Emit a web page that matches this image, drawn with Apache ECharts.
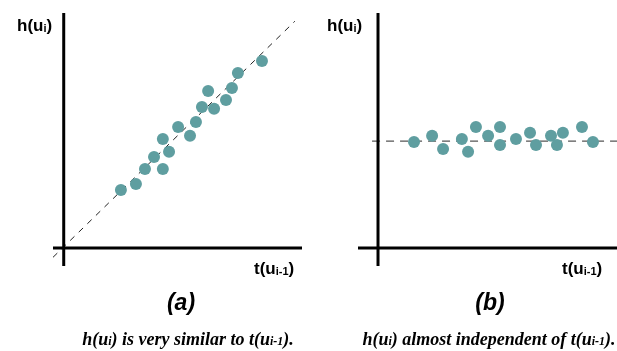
<!DOCTYPE html>
<html>
<head>
<meta charset="utf-8">
<script src="https://cdn.jsdelivr.net/npm/echarts@6/dist/echarts.min.js"></script>
<style>
  html, body { margin: 0; padding: 0; background: #fff; }
  #main { width: 617px; height: 351px; }
</style>
</head>
<body>
<div id="main"></div>
<script>
// panel (a): h(u_i) follows t(u_i-1)
var aX = [2.40, 3.03, 3.41, 3.79, 4.16, 4.16, 4.42, 4.80, 5.30, 5.55, 5.80, 6.06, 6.31, 6.81, 7.06, 7.31, 8.32];
var aY = [2.47, 2.72, 3.36, 3.87, 3.36, 4.64, 4.09, 5.15, 4.77, 5.36, 6.00, 6.68, 5.92, 6.30, 6.81, 7.45, 7.96];
var aRef = [[-0.45, -0.4], [9.7, 9.65]];   // y = x guide

// panel (b): h(u_i) stays flat
var bX = [1.51, 2.27, 2.73, 3.52, 3.78, 4.11, 4.62, 5.12, 5.12, 5.79, 6.38, 6.63, 7.26, 7.51, 7.76, 8.56, 9.02];
var bY = [4.51, 4.77, 4.21, 4.64, 4.09, 5.15, 4.77, 5.15, 4.38, 4.64, 4.90, 4.38, 4.77, 4.38, 4.90, 5.15, 4.51];
var bLevel = 4.55;

var dotColor = '#5f9ea0';
var sans = '"Liberation Sans", Arial, sans-serif';
var serif = '"Liberation Serif", "Times New Roman", serif';

function pairs(xs, ys) {
  return xs.map(function (x, i) { return [x, ys[i]]; });
}

// plain line series used for axes and guides
function seg(idx, pts, style, z) {
  return {
    type: 'line', xAxisIndex: idx, yAxisIndex: idx,
    data: pts, showSymbol: false, silent: true, z: z,
    lineStyle: style
  };
}

var xr = [[-0.45, 10], [-0.84, 10.03]];
var yr = [-0.77, 10];
var axisStyle = { color: '#000', width: 3 };

var chart = echarts.init(document.getElementById('main'), null, { renderer: 'canvas' });

var hLabel = {
  text: '{m|h(u}{s|i}{m|)}',
  rich: {
    m: { fontFamily: sans, fontWeight: 'bold', fontSize: 17, fill: '#000', verticalAlign: 'bottom', lineHeight: 20 },
    s: { fontFamily: sans, fontWeight: 'bold', fontSize: 11, fill: '#000', verticalAlign: 'bottom', lineHeight: 20, padding: [0, 0, 1, 0] }
  }
};
var tLabel = {
  text: '{m|t(u}{s|i-1}{m|)}',
  rich: hLabel.rich
};
var capRich = {
  m: { fontFamily: serif, fontWeight: 'bold', fontStyle: 'italic', fontSize: 18, fill: '#000', verticalAlign: 'bottom', lineHeight: 20 },
  s: { fontFamily: serif, fontWeight: 'bold', fontStyle: 'italic', fontSize: 12, fill: '#000', verticalAlign: 'bottom', lineHeight: 20, padding: [0, 0, 1, 0] }
};

function txt(x, y, style, align) {
  return {
    type: 'text', x: x, y: y, silent: true,
    style: Object.assign({ align: align || 'left', verticalAlign: 'middle' }, style)
  };
}

chart.setOption({
  animation: false,
  backgroundColor: '#fff',
  grid: [
    { left: 53, top: 13, width: 249, height: 253 },
    { left: 358, top: 13, width: 259, height: 253 }
  ],
  xAxis: [
    { gridIndex: 0, type: 'value', min: xr[0][0], max: xr[0][1], show: false },
    { gridIndex: 1, type: 'value', min: xr[1][0], max: xr[1][1], show: false }
  ],
  yAxis: [
    { gridIndex: 0, type: 'value', min: yr[0], max: yr[1], show: false },
    { gridIndex: 1, type: 'value', min: yr[0], max: yr[1], show: false }
  ],
  series: [
    seg(0, [[0, yr[0]], [0, yr[1]]], axisStyle, 5),
    seg(0, [[xr[0][0], 0], [xr[0][1], 0]], axisStyle, 5),
    seg(0, aRef, { color: '#222', width: 1, type: [6, 6] }, 1),
    {
      type: 'scatter', xAxisIndex: 0, yAxisIndex: 0, z: 3,
      data: pairs(aX, aY), symbolSize: 12,
      itemStyle: { color: dotColor, opacity: 1 }
    },
    seg(1, [[0, yr[0]], [0, yr[1]]], axisStyle, 5),
    seg(1, [[xr[1][0], 0], [xr[1][1], 0]], axisStyle, 5),
    seg(1, [[-0.25, bLevel], [xr[1][1], bLevel]], { color: '#555', width: 1.3, type: [8, 6] }, 1),
    {
      type: 'scatter', xAxisIndex: 1, yAxisIndex: 1, z: 3,
      data: pairs(bX, bY), symbolSize: 12,
      itemStyle: { color: dotColor, opacity: 1 }
    }
  ],
  graphic: [
    txt(17, 25, hLabel),
    txt(327, 25, hLabel),
    txt(254, 268, tLabel),
    txt(562, 268, tLabel),
    txt(181, 304, { text: '(a)', font: 'italic bold 23px ' + sans, fill: '#000' }, 'center'),
    txt(490, 304, { text: '(b)', font: 'italic bold 23px ' + sans, fill: '#000' }, 'center'),
    txt(188, 339, { text: '{m|h(u}{s|i}{m|) is very similar to t(u}{s|i-1}{m|).}', rich: capRich }, 'center'),
    txt(489, 339, { text: '{m|h(u}{s|i}{m|) almost independent of t(u}{s|i-1}{m|).}', rich: capRich }, 'center')
  ]
});
</script>
</body>
</html>
